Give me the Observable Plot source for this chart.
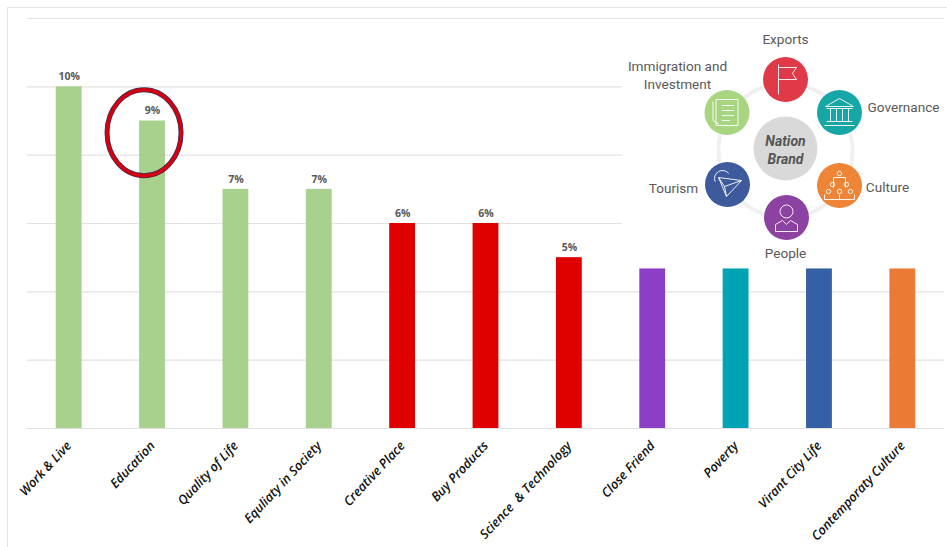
<!DOCTYPE html>
<html>
<head>
<meta charset="utf-8">
<script src="https://cdn.jsdelivr.net/npm/d3@7"></script>
<script src="https://cdn.jsdelivr.net/npm/@observablehq/plot@0.6"></script>
<style>
html,body{margin:0;padding:0;background:#fff;overflow:hidden}
#stage{position:relative;width:947px;height:547px;overflow:hidden}
#frame{position:absolute;left:7px;top:7px;width:960px;height:560px;border-left:1.5px solid #e4e4e4;border-top:1.5px solid #e4e4e4}
#main,#inset{position:absolute}
#main{left:0;top:0}
#inset{left:622px;top:22px;width:325px;height:242px}
svg{display:block}
</style>
</head>
<body>
<div id="stage"><div id="frame"></div><div id="main"></div><div id="inset"></div></div>
<script>
// Bar chart data
const categories = ["Work & Live","Education","Quality of Life","Equliaty in Society","Creative Place","Buy Products","Science  & Technology","Close Friend","Poverty","Virant City Life","Contemporaty Culture"];
const values = [10,9,7,7,6,6,5,4.67,4.67,4.67,4.67];
const valueLabels = ["10%","9%","7%","7%","6%","6%","5%","","","",""];
const barColors = ["#a9d18e","#a9d18e","#a9d18e","#a9d18e","#e00000","#e00000","#e00000","#8a3fc6","#00a3b3","#3560a5","#ea7a36"];
const gridValues = [0,2,4,6,8,10,12];
const bars = categories.map((c,i)=>({category:c,value:values[i],label:valueLabels[i],color:barColors[i]}));

// Highlight ring
const highlightCategory = "Education";
const highlightValue = 8.64;

// Nation Brand diagram (units: centred on the ring)
const nodeNames = ["Exports","Governance","Culture","People","Tourism","Immigration"];
const nodeX = [0,54,54,1,-58,-58.5];
const nodeY = [-71,-38,35,67,34,-38];
const nodeColors = ["#e03a48","#17a6a6","#ee8435","#8c42a0","#3c5a9c","#a8d57f"];
const captionText = ["Exports","Governance","Culture","Tourism","People","Immigration and","Investment"];
const captionX = [0,118,102,-112,0,-108,-108];
const captionY = [-111,-43,37,38,103,-84,-66];
const hubLines = ["Nation","Brand"];
const hubX = [0,0];
const hubY = [-9,9];

const font = "Roboto, 'Open Sans', sans-serif";

const main = Plot.plot({
  width:947,height:547,marginLeft:27,marginRight:3,marginTop:18,marginBottom:119,
  style:{background:"transparent",overflow:"visible"},
  x:{domain:categories,paddingInner:0.69,paddingOuter:0.345,round:false},
  y:{domain:[0,12],axis:null},
  color:{type:"identity"},
  marks:[
    Plot.ruleY(gridValues,{stroke:"#e2e2e2",strokeWidth:1.1}),
    Plot.barY(bars,{x:"category",y:"value",fill:"color"}),
    Plot.text(bars.filter(d=>d.label),{x:"category",y:"value",text:"label",dy:-10,fill:"#595959",fontSize:10.5,fontWeight:700,fontFamily:"'Open Sans', sans-serif"}),
    Plot.axisX({tickSize:0,tickPadding:15,tickRotate:-47,textAnchor:"end",fill:"#111",fontSize:12.8,fontWeight:600,fontStyle:"italic",fontFamily:"'Open Sans', sans-serif",label:null}),
    (index,{x,y})=>{
      const g=d3.create("svg:g");
      const cx=x(highlightCategory)+x.bandwidth()/2-8, cy=y(highlightValue);
      g.append("ellipse").attr("cx",cx).attr("cy",cy).attr("rx",37).attr("ry",43).attr("fill","none").attr("stroke","#35305c").attr("stroke-width",5);
      g.append("ellipse").attr("cx",cx).attr("cy",cy).attr("rx",37).attr("ry",43).attr("fill","none").attr("stroke","#d40010").attr("stroke-width",3.6);
      return g.node();
    }
  ]
});
document.getElementById("main").appendChild(main);

// Line icons as Plot symbols
const flag={draw(c){c.moveTo(-7,15);c.lineTo(-7,-15);c.moveTo(-7,-12);c.lineTo(11,-12);c.lineTo(7,-6);c.lineTo(11,0);c.lineTo(-7,0);}};
const temple={draw(c){c.moveTo(-14,-6);c.lineTo(0,-14);c.lineTo(14,-6);c.closePath();
  [-9,-3,3,9].forEach(v=>{c.moveTo(v,-4);c.lineTo(v,9);});
  c.moveTo(-13,-4);c.lineTo(13,-4);c.moveTo(-13,9);c.lineTo(13,9);c.moveTo(-15,13);c.lineTo(15,13);}};
const crowd={draw(c){
  [[0,-12],[-7,-1],[7,-1],[-11,6],[0,6],[11,6]].forEach(([a,b])=>{c.moveTo(a+2.2,b);c.arc(a,b,2.2,0,7);});
  c.moveTo(-6,-8);c.lineTo(6,-8);c.lineTo(6,2);c.moveTo(-6,-8);c.lineTo(-6,2);
  c.moveTo(-15,14);c.lineTo(15,14);c.moveTo(-15,9);c.lineTo(-15,14);c.moveTo(15,9);c.lineTo(15,14);c.moveTo(0,9);c.lineTo(0,14);}};
const person={draw(c){c.moveTo(6.5,-6);c.arc(0,-6,6.5,0,7);c.moveTo(-11,14);c.lineTo(-11,7);c.lineTo(-4,3);c.lineTo(0,7);c.lineTo(4,3);c.lineTo(11,7);c.lineTo(11,14);c.closePath();}};
const plane={draw(c){c.moveTo(14,-4);c.lineTo(-9,-7);c.lineTo(-1,12);c.closePath();c.moveTo(14,-4);c.lineTo(-3,2);c.lineTo(-1,12);c.moveTo(-3,2);c.lineTo(-9,-7);c.moveTo(-12,-3);c.arc(-5,-6,8,2.8,5.6);}};
const book={draw(c){c.rect(-11,-13,22,26);c.moveTo(-14,-11);c.lineTo(-14,8);c.lineTo(-8,12);c.moveTo(-5,-7);c.lineTo(7,-7);c.moveTo(-5,-2);c.lineTo(7,-2);c.moveTo(-5,3);c.lineTo(7,3);c.moveTo(-5,8);c.lineTo(3,8);}};
const icons=[flag,temple,crowd,person,plane,book];

const nodes=nodeNames.map((n,i)=>({name:n,x:nodeX[i],y:nodeY[i],color:nodeColors[i]}));
const captions=captionText.map((t,i)=>({t,x:captionX[i],y:captionY[i]}));
const hub=hubLines.map((t,i)=>({t,x:hubX[i],y:hubY[i]}));

const inset = Plot.plot({
  width:325,height:242,margin:0,
  style:{background:"#fff",overflow:"visible"},
  x:{domain:[-163,162],range:[0,325],axis:null},
  y:{domain:[-128,114],range:[0,242],axis:null},
  color:{type:"identity"},
  marks:[
    Plot.dot([{x:0,y:0}],{x:"x",y:"y",r:67,fill:"none",stroke:"#f0f0f0",strokeWidth:4}),
    Plot.dot([{x:0,y:-2}],{x:"x",y:"y",r:32,fill:"#d9d9d9"}),
    Plot.dot(nodes,{x:"x",y:"y",r:22.5,fill:"color"}),
    ...nodes.map((n,i)=>Plot.dot([n],{x:"x",y:"y",symbol:icons[i],r:5,fill:"none",stroke:"#fff",strokeWidth:0.9})),
    Plot.text(captions,{x:"x",y:"y",text:"t",fill:"#595959",fontSize:13.6,fontFamily:font}),
    Plot.text(hub,{x:"x",y:"y",text:"t",fill:"#555",fontSize:14,fontWeight:700,fontStyle:"italic",fontFamily:font})
  ]
});
document.getElementById("inset").appendChild(inset);
</script>
</body>
</html>
